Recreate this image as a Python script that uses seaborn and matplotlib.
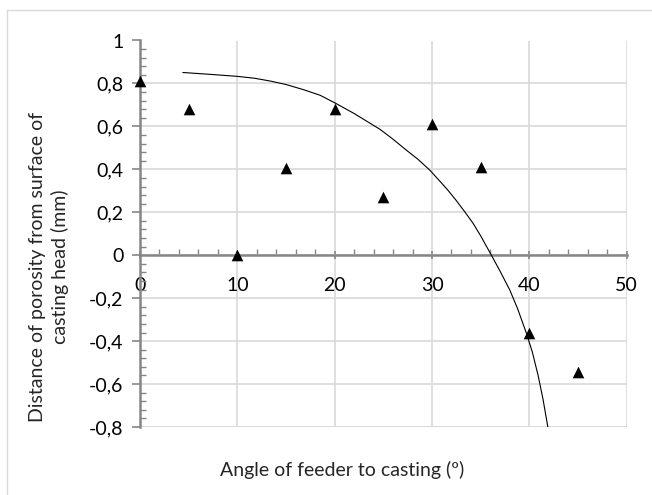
import matplotlib
matplotlib.use("Agg")
import matplotlib.pyplot as plt
from matplotlib.ticker import MultipleLocator, FixedLocator, FixedFormatter
from matplotlib.patches import Rectangle
import seaborn as sns
import pandas as pd

# measured points
angle = [0, 5, 10, 15, 20, 25, 30, 35, 40, 45]
distance = [0.81, 0.68, 0.0, 0.405, 0.68, 0.27, 0.61, 0.41, -0.364, -0.543]

# trend curve
curve_x = [4.4, 7, 10, 11.8, 13.4, 15, 16.8, 18.5, 20, 22, 24.7, 26, 27.4, 28.6, 29.8, 31.5, 32.4,
           33.4, 34.2, 35, 36.1, 37, 38.0, 38.8, 39.7, 40.3, 40.9, 41.4, 41.9]
curve_y = [0.851, 0.843, 0.833, 0.824, 0.811, 0.795, 0.771, 0.745, 0.710, 0.66, 0.585, 0.54, 0.488,
           0.445, 0.395, 0.31, 0.26, 0.20, 0.15, 0.09, 0.0, -0.075, -0.163, -0.25, -0.364, -0.45,
           -0.56, -0.67, -0.80]

x_ticks = [0, 10, 20, 30, 40, 50]
x_tick_labels = ["0", "10", "20", "30", "40", "50"]
y_ticks = [-0.8, -0.6, -0.4, -0.2, 0, 0.2, 0.4, 0.6, 0.8, 1]
y_tick_labels = ["-0,8", "-0,6", "-0,4", "-0,2", "0", "0,2", "0,4", "0,6", "0,8", "1"]

x_label = "Angle of feeder to casting (º)"
y_label = "Distance of porosity from surface of\ncasting head (mm)"

sns.set_theme(style="white")
plt.rcParams["font.family"] = ["Lato", "DejaVu Sans"]

W, H = 652, 495
fig = plt.figure(figsize=(W / 100, H / 100), dpi=100)
ax = fig.add_axes([140 / W, 1 - 427 / H, (626.7 - 140) / W, (427 - 40.5) / H])

df = pd.DataFrame({"angle": angle, "distance": distance})
trend = pd.DataFrame({"x": curve_x, "y": curve_y})

sns.lineplot(data=trend, x="x", y="y", sort=False, estimator=None, color="black",
             linewidth=0.8, ax=ax, zorder=4)
sns.scatterplot(data=df, x="angle", y="distance", marker="^", s=70, color="black",
                edgecolor="black", linewidth=0, ax=ax, zorder=5, clip_on=False)

ax.set_xlim(0, 50)
ax.set_ylim(-0.8, 1)
ax.set_xlabel("")
ax.set_ylabel("")

grid_c = "#d9d9d9"
axis_c = "#868686"
ax.xaxis.set_major_locator(FixedLocator(x_ticks))
ax.xaxis.set_major_formatter(FixedFormatter(x_tick_labels))
ax.xaxis.set_minor_locator(MultipleLocator(2))
ax.yaxis.set_major_locator(FixedLocator(y_ticks))
ax.yaxis.set_major_formatter(FixedFormatter(y_tick_labels))
ax.yaxis.set_minor_locator(MultipleLocator(0.04))
ax.grid(True, which="major", color=grid_c, linewidth=1.2)
ax.set_axisbelow(True)

for s in ["top", "right"]:
    ax.spines[s].set_visible(False)
ax.spines["bottom"].set_position(("data", 0))
for s in ["left", "bottom"]:
    ax.spines[s].set_color(axis_c)
    ax.spines[s].set_linewidth(1.8)
    ax.spines[s].set_zorder(3)

ax.tick_params(axis="x", which="major", direction="inout", length=6, width=1.2, color=axis_c,
               pad=13, labelsize=14, labelcolor="black", bottom=True)
ax.tick_params(axis="x", which="minor", direction="in", length=4, width=1, color=axis_c, bottom=True)
ax.tick_params(axis="y", which="major", direction="out", length=6, width=1.2, color=axis_c,
               pad=6, labelsize=14, labelcolor="black", left=True)
ax.tick_params(axis="y", which="minor", direction="in", length=4, width=1, color=axis_c, left=True)

# bottom grid line at -0.8
ax.axhline(-0.8, color=grid_c, linewidth=1.2, zorder=0)

fig.text(342 / W, 1 - 470 / H, x_label, ha="center", va="center", fontsize=14)
fig.text(49 / W, 1 - 267 / H, y_label, ha="center", va="center", rotation=90,
         fontsize=14, multialignment="center", linespacing=1.3)

fig.patches.append(Rectangle((7 / W, -0.1), 1.2, 1.1 - 9.7 / H, transform=fig.transFigure,
                             fill=False, edgecolor=grid_c, linewidth=1.0))

fig.savefig("out.png", dpi=100)
